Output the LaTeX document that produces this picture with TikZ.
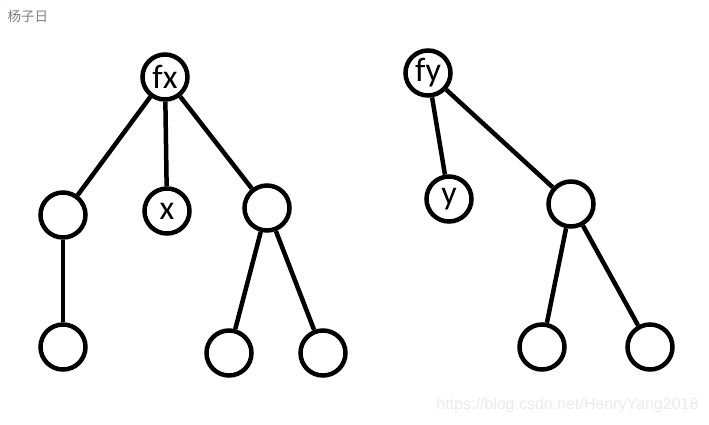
\documentclass[tikz,border=0pt]{standalone}
\usepackage{fontspec}
\setmainfont{Carlito}
\newfontfamily\cjk{Noto Sans CJK SC}
\newfontfamily\wmfont{Liberation Sans}
\definecolor{titlegray}{RGB}{140,125,115}
\begin{document}
\begin{tikzpicture}[x=1pt,y=-1pt,
  tn/.style={circle,draw,line width=4.5pt,minimum size=45pt,inner sep=0pt,font=\fontsize{34}{34}\selectfont},
  edge/.style={line width=4.5pt}]
\useasboundingbox[fill=white] (0,0) rectangle (709,424);
\node[anchor=west,font=\cjk\fontsize{13.5}{13.5}\selectfont,text=titlegray] (t) at (4,16) {杨子日};
\node[anchor=east,font=\wmfont\fontsize{16}{16}\selectfont,text=black!8] (w) at (702,405) {https://blog.csdn.net/HenryYang2018};
% left tree
\node[tn] (fx) at (165,77) {fx};
\node[tn] (a) at (63,215) {};
\node[tn] (x) at (167,211) {x};
\node[tn] (b) at (267,208) {};
\node[tn] (a1) at (63,347) {};
\node[tn] (b1) at (229,353) {};
\node[tn] (b2) at (323,353) {};
% right tree
\node[tn] (fy) at (428,73) {fy};
\node[tn] (y) at (449,199) {y};
\node[tn] (c) at (571,204) {};
\node[tn] (c1) at (542,347) {};
\node[tn] (c2) at (650,347) {};
\draw[edge] (fx) -- (a);
\draw[edge] (fx) -- (x);
\draw[edge] (fx) -- (b);
\draw[edge] (a) -- (a1);
\draw[edge] (b) -- (b1);
\draw[edge] (b) -- (b2);
\draw[edge] (fy) -- (y);
\draw[edge] (fy) -- (c);
\draw[edge] (c) -- (c1);
\draw[edge] (c) -- (c2);
\end{tikzpicture}
\end{document}
